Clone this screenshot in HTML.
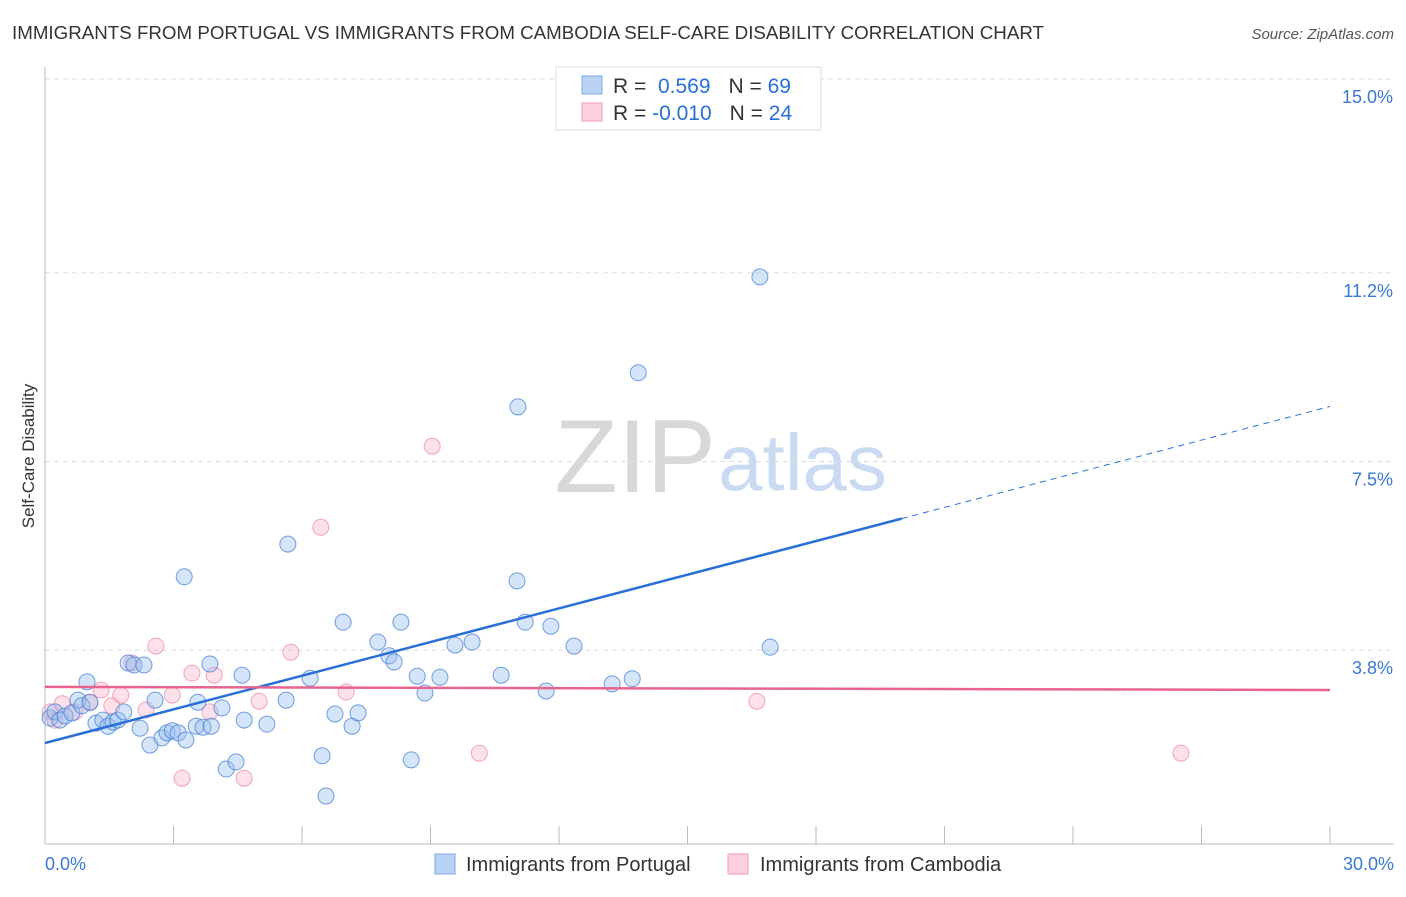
<!DOCTYPE html>
<html><head><meta charset="utf-8"><style>
body{margin:0;background:#fff;font-family:"Liberation Sans",sans-serif;}
svg text{font-family:"Liberation Sans",sans-serif;}
</style></head><body>
<svg id="chart" width="1406" height="892">
<text x="12" y="39" font-size="18" fill="#333" textLength="1032" lengthAdjust="spacingAndGlyphs">IMMIGRANTS FROM PORTUGAL VS IMMIGRANTS FROM CAMBODIA SELF-CARE DISABILITY CORRELATION CHART</text>
<text x="1394" y="39" font-size="15" fill="#555" text-anchor="end" font-style="italic">Source: ZipAtlas.com</text>
<text x="716" y="492" font-size="104" fill="#d8d8d8" text-anchor="end" font-family="Liberation Serif">ZIP</text>
<text x="718" y="490" font-size="80" fill="#c9daf2">atlas</text>
<g id="grid"></g><g id="axes"></g><g id="pts"></g><g id="lines"></g>
<text transform="translate(34,456) rotate(-90)" font-size="17" fill="#333" text-anchor="middle">Self-Care Disability</text>
<g>
<rect x="556" y="67" width="265" height="63" fill="#fff" stroke="#ddd"/>
<rect x="582" y="76" width="20" height="18" fill="#b9d3f5" stroke="#7ea8e6"/>
<rect x="582" y="103" width="20" height="18" fill="#fcd0dc" stroke="#f09ab3"/>
<text x="613" y="93" font-size="21" fill="#333">R = <tspan fill="#2a6fd6">&#160;0.569</tspan><tspan dx="18">N = </tspan><tspan fill="#2a6fd6">69</tspan></text>
<text x="613" y="120" font-size="21" fill="#333">R = <tspan fill="#2a6fd6">-0.010</tspan><tspan dx="18">N = </tspan><tspan fill="#2a6fd6">24</tspan></text>
</g>
<g>
<rect x="435" y="854" width="20" height="20" fill="#b9d3f5" stroke="#7ea8e6"/>
<text x="466" y="871" font-size="20" fill="#333">Immigrants from Portugal</text>
<rect x="728" y="854" width="20" height="20" fill="#fcd0dc" stroke="#f09ab3"/>
<text x="760" y="871" font-size="20" fill="#333">Immigrants from Cambodia</text>
</g>
</svg>
<script>
const xTicks=[0,3,6,9,12,15,18,21,24,27,30];
const yTicks=[3.8,7.5,11.2,15.0];
const blueX=[0.12,0.23,0.35,0.47,0.63,0.77,0.86,0.98,1.05,1.19,1.35,1.47,1.59,1.70,1.84,1.94,2.08,2.22,2.31,2.45,2.57,2.73,2.85,2.97,3.11,3.25,3.29,3.53,3.57,3.69,3.85,3.88,4.13,4.23,4.46,4.65,4.60,5.18,5.63,5.67,6.19,6.47,6.56,6.77,6.96,7.17,7.31,7.77,8.03,8.15,8.31,8.55,8.69,8.87,9.22,9.57,9.97,10.65,11.02,11.04,11.21,11.70,11.81,12.35,13.24,13.71,13.85,16.69,16.93];
const blueY=[2.47,2.59,2.43,2.51,2.57,2.82,2.71,3.18,2.78,2.37,2.43,2.31,2.39,2.43,2.59,3.55,3.51,2.27,3.51,1.94,2.82,2.08,2.18,2.22,2.18,5.24,2.04,2.31,2.78,2.29,3.53,2.31,2.67,1.47,1.61,2.43,3.31,2.35,2.82,5.88,3.25,1.73,0.94,2.55,4.35,2.31,2.57,3.96,3.69,3.57,4.35,1.65,3.29,2.96,3.27,3.90,3.96,3.31,5.16,8.57,4.35,3.00,4.27,3.88,3.14,3.24,9.24,11.12,3.86];
const pinkX=[0.12,0.23,0.40,0.70,1.05,1.31,1.56,1.77,2.03,2.36,2.59,2.97,3.20,3.43,3.85,3.95,4.65,5.00,5.74,6.44,7.03,9.04,10.14,16.62,26.52];
const pinkY=[2.59,2.43,2.75,2.59,2.77,3.02,2.71,2.92,3.55,2.63,3.88,2.92,1.29,3.35,2.59,3.31,1.29,2.80,3.76,6.21,2.98,7.80,1.78,2.80,1.78];
const blueFit=[1.98,0.22]; const pinkFit=[3.08,-0.002];
const NS='http://www.w3.org/2000/svg';
const X=v=>45+v*(1285/30), Y=v=>844-v*51;
function mk(parent,tag,attrs){const e=document.createElementNS(NS,tag);for(const k in attrs)e.setAttribute(k,attrs[k]);document.getElementById(parent).appendChild(e);return e;}
yTicks.forEach(t=>{
 const l=mk('grid','line',{x1:45,x2:1394,y1:Y(t),y2:Y(t),stroke:'#ddd','stroke-dasharray':'5,4'});
 
 
 const tx=mk('grid','text',{x:1393,y:Y(t)+24,'font-size':18,fill:'#3a78d4','text-anchor':'end'});
 tx.textContent=t.toFixed(1)+'%';
 
 
});
const ax=mk('axes','line',{x1:45,x2:45,y1:67,y2:844,stroke:'#bbb'});


const bx=mk('axes','line',{x1:45,x2:1394,y1:844,y2:844,stroke:'#bbb'});


xTicks.forEach(t=>{
 const l=mk('axes','line',{x1:X(t),x2:X(t),y1:826,y2:844,stroke:'#bbb'});
 
 
});
[[0,'start',45],[30,'end',1394]].forEach(([t,a,x])=>{
 const tx=mk('axes','text',{x:x,y:870,'font-size':18,fill:'#3a78d4','text-anchor':a});
 tx.textContent=t.toFixed(1)+'%';
 
 
});
pinkX.forEach((v,i)=>{
 const c=mk('pts','circle',{cx:X(v),cy:Y(pinkY[i]),r:8,fill:'rgba(248,170,195,0.35)',stroke:'rgba(235,130,165,0.7)'});
 
 
});
blueX.forEach((v,i)=>{
 const c=mk('pts','circle',{cx:X(v),cy:Y(blueY[i]),r:8,fill:'rgba(150,190,240,0.4)',stroke:'rgba(60,120,210,0.7)'});
 
 
});
const f=(fit,x)=>fit[0]+fit[1]*x;
const b1=mk('lines','line',{x1:X(0),y1:Y(f(blueFit,0)),x2:X(20),y2:Y(f(blueFit,20)),stroke:'#2a6fd6','stroke-width':2.5});


const b2=mk('lines','line',{x1:X(20),y1:Y(f(blueFit,20)),x2:X(30),y2:Y(f(blueFit,30)),stroke:'#2a6fd6','stroke-width':1,'stroke-dasharray':'6,5'});


const p1=mk('lines','line',{x1:X(0),y1:Y(f(pinkFit,0)),x2:X(30),y2:Y(f(pinkFit,30)),stroke:'#e8648e','stroke-width':2.5});


</script>
</body></html>
